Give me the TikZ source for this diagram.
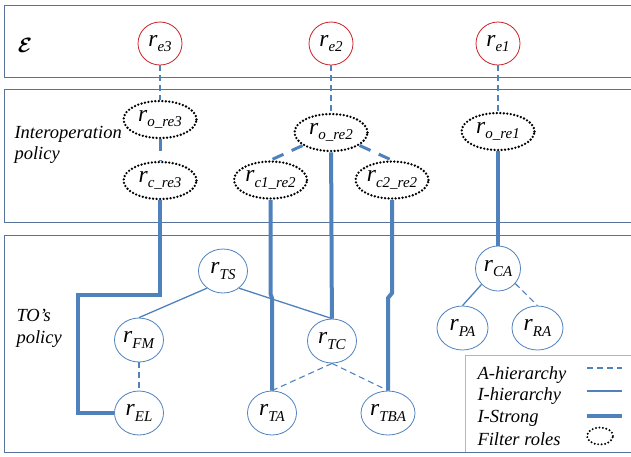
\documentclass[tikz,border=0pt]{standalone}
\usepackage{amsmath,amssymb}
\usepackage{fontspec}
\setmainfont{Liberation Serif}
\usetikzlibrary{shapes.geometric}
\definecolor{LinkBlue}{RGB}{79,129,189}
\definecolor{PanelBlue}{RGB}{88,115,155}
\definecolor{KeyBlue}{RGB}{165,185,212}
\definecolor{EnvRed}{RGB}{204,32,39}
\newcommand{\rl}[1]{\fontsize{23.5}{23.5}\selectfont\textit{r}\raisebox{-5.5pt}{\fontsize{15}{15}\selectfont\textit{#1}}}
\newcommand{\lbl}{\fontsize{18.5}{21.5}\selectfont\itshape}

\tikzset{
	envrole/.style={ellipse,draw=EnvRed,line width=0.8pt,minimum width=44,minimum height=43,inner sep=0pt},
	filterrole/.style={ellipse,draw=black,line width=2.6pt,dash pattern=on 0pt off 3.5pt,line cap=round,
		minimum width=73,minimum height=37,inner sep=0pt},
	torole/.style={ellipse,draw=LinkBlue,line width=0.8pt,minimum width=49,minimum height=44,inner sep=0pt},
	ahier/.style={draw=LinkBlue,line width=1.1pt,dash pattern=on 6pt off 4pt},
	ihier/.style={draw=LinkBlue,line width=1.3pt},
	istrong/.style={draw=LinkBlue,line width=4pt},
	ahierthick/.style={draw=LinkBlue,line width=3pt,dash pattern=on 12pt off 9pt},
	panel/.style={draw=PanelBlue,line width=1pt},
	sidetext/.style={anchor=west,align=left,font=\lbl}
}

\begin{document}
\begin{tikzpicture}[x=1pt,y=-1pt]
	\useasboundingbox (0,0) rectangle (631,456);
	
	% the three layers
	\draw[panel] (631,5) -- (4,5) -- (4,77) -- (631,77);
	\draw[panel] (631,89) -- (4,89) -- (4,222) -- (631,222);
	\draw[panel] (631,235) -- (4,235) -- (4,452) -- (631,452);
	
	\node (eps) at (25,45) {\fontsize{20}{20}\selectfont$\boldsymbol{\mathcal{E}}$};
	\node[sidetext] (interlbl) at (11,145) {Interoperation\\policy};
	\node[sidetext] (tolbl) at (13,328.5) {TO’s\\policy};
	
	% external roles
	\foreach \n/\x/\s in {re3/160/e3,re2/331/e2,re1/498/e1}
	\node[envrole] (\n) at (\x,43.5) {\rl{\s}};
	
	% filter roles
	\node[filterrole] (ore3) at (160,119.5) {\rl{o\_re3}};
	\node[filterrole] (cre3) at (160,180.5) {\rl{c\_re3}};
	\node[filterrole] (ore2) at (331,132.5) {\rl{o\_re2}};
	\node[filterrole] (c1re2) at (270.5,180) {\rl{c1\_re2}};
	\node[filterrole] (c2re2) at (392,180) {\rl{c2\_re2}};
	\node[filterrole] (ore1) at (498,131.5) {\rl{o\_re1}};
	
	% TO's roles
	\node[torole] (TS) at (223,271) {\rl{TS}};
	\node[torole] (FM) at (139,340) {\rl{FM}};
	\node[torole] (EL) at (139,413) {\rl{EL}};
	\node[torole] (TC) at (332,341) {\rl{TC}};
	\node[torole] (TA) at (272,413) {\rl{TA}};
	\node[torole,minimum width=54] (TBA) at (388,413) {\rl{TBA}};
	\node[torole,minimum width=45,minimum height=45] (CA) at (498,268.5) {\rl{CA}};
	\node[torole,minimum width=51] (PA) at (462.5,328) {\rl{PA}};
	\node[torole,minimum width=51] (RA) at (537.5,328) {\rl{RA}};
	
	\foreach \a/\b in {re3/ore3,re2/ore2,re1/ore1}
	\draw[ahier] (\a) -- (\b);
	\draw[ahierthick] (ore3) -- (cre3);
	\draw[ahierthick] (ore2) -- (c1re2.north);
	\draw[ahierthick] (ore2) -- (c2re2.north);
	
	\coordinate (k1) at (160,295);
	\coordinate (k2) at (78,295);
	\coordinate (k3) at (78,413);
	\draw[istrong] (cre3) -- (k1) -- (k2) -- (k3) -- (EL);
	\coordinate (ja) at (270.5,294);
	\coordinate (jd) at (272,298);
	\draw[istrong] (c1re2) -- (ja) -- (jd) -- (TA);
	\coordinate (jb) at (392,293);
	\coordinate (jc) at (388,298);
	\draw[istrong] (c2re2) -- (jb) -- (jc) -- (TBA);
	\draw[istrong] (ore2) -- (TC);
	\draw[istrong] (ore1) -- (CA);
	
	\draw[ihier] (TS.227) -- (FM.north);
	\draw[ihier] (TS.313) -- (TC.north);
	\draw[ihier] (CA.224) -- (PA.north);
	\draw[ahier] (CA.319) -- (RA.north);
	\draw[ahier] (FM) -- (EL);
	\draw[ahier] (TC.south) -- (TA.north);
	\draw[ahier] (TC.south) -- (TBA.north);
	
	% key
	\draw[draw=KeyBlue,line width=1pt] (631,355) -- (465,355) -- (465,452);
	\node[anchor=west,font=\lbl] (keyA) at (474,375) {A-hierarchy};
	\node[anchor=west,font=\lbl] (keyI) at (474,396.5) {I-hierarchy};
	\node[anchor=west,font=\lbl] (keyS) at (474,418) {I-Strong};
	\node[anchor=west,font=\lbl] (keyF) at (474,439.5) {Filter roles};
	\coordinate (sa1) at (587,368);
	\coordinate (sa2) at (622,368);
	\coordinate (si1) at (587,391);
	\coordinate (si2) at (622,391);
	\coordinate (ss1) at (587,416);
	\coordinate (ss2) at (622,416);
	\draw[ahier] (sa1) -- (sa2);
	\draw[ihier] (si1) -- (si2);
	\draw[istrong] (ss1) -- (ss2);
	\node[filterrole,line width=2.2pt,minimum width=26,minimum height=17] (keyring) at (600,436) {};
\end{tikzpicture}
\end{document}
